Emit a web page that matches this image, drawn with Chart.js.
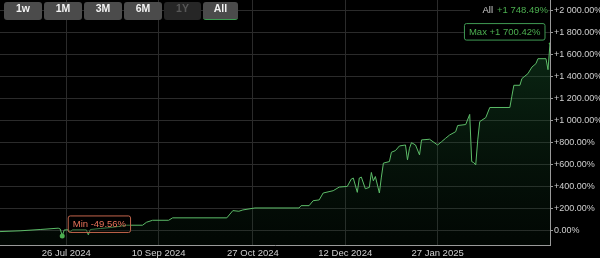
<!DOCTYPE html>
<html><head><meta charset="utf-8">
<script src="https://cdn.jsdelivr.net/npm/chart.js@4/dist/chart.umd.min.js"></script>
<style>
html,body{margin:0;padding:0;background:#000;overflow:hidden;}
#wrap{position:relative;width:600px;height:258px;background:#000;}
canvas{display:block;}
.btn{position:absolute;top:2px;height:18px;line-height:18px;text-align:center;background:#4b4b4b;color:#f2f2f2;border-radius:3px;font:bold 10.5px 'Liberation Sans',Arial,sans-serif;box-sizing:border-box;}
.btn.dis{background:#262626;color:#575757;}
.btn.act{border-bottom:1px solid #3c9a50;}
#allLbl{position:absolute;left:470px;top:3px;height:14px;width:78px;background:#000;font:9.5px 'Liberation Sans',Arial,sans-serif;line-height:14px;text-align:right;white-space:nowrap;}
#allLbl .k{color:#cfcfcf;margin-right:4px;}
#allLbl .v{color:#4caf50;}
</style></head>
<body>
<div id="wrap">
<canvas id="c" width="600" height="258"></canvas>
<div class="btn" style="left:4px;width:38px">1w</div>
<div class="btn" style="left:44px;width:38px">1M</div>
<div class="btn" style="left:84px;width:38px">3M</div>
<div class="btn" style="left:124px;width:38px">6M</div>
<div class="btn dis" style="left:164px;width:37px">1Y</div>
<div class="btn act" style="left:203px;width:35px">All</div>
<div id="allLbl"><span class="k">All</span><span class="v">+1 748.49%</span></div>
</div>
<script>
const dates = ['2024-06-23','2024-07-03','2024-07-13','2024-07-22','2024-07-23','2024-07-24','2024-07-25','2024-07-27','2024-07-28','2024-07-29',
'2024-08-05','2024-08-06','2024-08-07','2024-08-12','2024-08-17','2024-08-22','2024-08-25','2024-09-02','2024-09-04','2024-09-07',
'2024-09-15','2024-09-17','2024-10-14','2024-10-17','2024-10-20','2024-10-22','2024-10-28','2024-11-19','2024-11-20','2024-11-24',
'2024-11-26','2024-11-29','2024-12-01','2024-12-06','2024-12-09','2024-12-13','2024-12-15','2024-12-16','2024-12-18','2024-12-19',
'2024-12-20','2024-12-22','2024-12-24','2024-12-25','2024-12-26','2024-12-27','2024-12-29','2024-12-30','2024-12-31','2025-01-03',
'2025-01-04','2025-01-06','2025-01-08','2025-01-11','2025-01-12','2025-01-13','2025-01-14','2025-01-16','2025-01-18','2025-01-19',
'2025-01-23','2025-01-27','2025-01-29','2025-01-31','2025-02-02','2025-02-05','2025-02-06','2025-02-10','2025-02-12','2025-02-13',
'2025-02-14','2025-02-15','2025-02-16','2025-02-17','2025-02-20','2025-02-22','2025-03-04','2025-03-05','2025-03-06','2025-03-09',
'2025-03-10','2025-03-13','2025-03-15','2025-03-17','2025-03-18','2025-03-22','2025-03-23','2025-03-24'];
const returns = [-10,-3,9,21,14,-49.56,5,6,-15,6,
6,-39,9,18,27,39,48,48,75,93,
93,115,115,181,175,187,205,205,226,226,
271,278,341,362,395,401,468,477,347,477,
486,380,392,528,452,491,341,486,613,627,
712,727,769,778,643,748,799,778,688,824,
830,778,808,839,869,899,955,964,1056,627,
618,597,824,991,1027,1119,1119,1222,1321,1321,
1382,1427,1487,1518,1563,1563,1463,1700.42];
const xTickDates = ['2024-07-26','2024-09-10','2024-10-27','2024-12-12','2025-01-27'];
const yTicks = [0,200,400,600,800,1000,1200,1400,1600,1800,2000];
const xRange = ['2024-06-23','2025-03-24'];
const yRange = [-132, 2097];
const minLabel = 'Min -49.56%';
const maxLabel = 'Max +1 700.42%';

const MONTHS = ['Jan','Feb','Mar','Apr','May','Jun','Jul','Aug','Sep','Oct','Nov','Dec'];
const dayNum = s => Date.parse(s + 'T00:00:00Z') / 86400000;
const fmtDate = d => { const dt = new Date(d * 86400000); return dt.getUTCDate() + ' ' + MONTHS[dt.getUTCMonth()] + ' ' + dt.getUTCFullYear(); };
const fmtPct = v => { const s = Math.abs(v).toFixed(2).split('.'); const i = s[0].replace(/\B(?=(\d{3})+(?!\d))/g, ' '); return (v > 0 ? '+' : v < 0 ? '-' : '') + i + '.' + s[1] + '%'; };

const pts = dates.map((d, i) => ({x: dayNum(d), y: returns[i]}));
let minI = 0, maxI = 0;
returns.forEach((v, i) => { if (v < returns[minI]) minI = i; if (v > returns[maxI]) maxI = i; });

const FONT = "'Liberation Sans',Arial,sans-serif";

const labelPlugin = {
  id: 'minmax',
  afterDatasetsDraw(chart) {
    const ctx = chart.ctx;
    const meta = chart.getDatasetMeta(0);
    const pMin = meta.data[minI], pMax = meta.data[maxI];
    ctx.save();
    ctx.font = '9.5px ' + FONT;
    ctx.textBaseline = 'middle';
    let w = ctx.measureText(minLabel).width + 9, h = 16.5;
    let bx = pMin.x + 5.5, by = pMin.y - 20.5;
    ctx.fillStyle = 'rgba(0,0,0,0.35)';
    ctx.beginPath(); ctx.roundRect(bx + 0.5, by + 0.5, w, h, 2); ctx.fill();
    ctx.strokeStyle = '#c4654c'; ctx.lineWidth = 1; ctx.stroke();
    ctx.fillStyle = '#e8735a'; ctx.textAlign = 'left';
    ctx.fillText(minLabel, bx + 5, by + h / 2 + 1);
    w = ctx.measureText(maxLabel).width + 9; h = 16.5;
    bx = pMax.x - 5.5 - w; by = pMax.y - 20.5;
    ctx.fillStyle = '#000';
    ctx.beginPath(); ctx.roundRect(bx + 0.5, by + 0.5, w, h, 2); ctx.fill();
    ctx.strokeStyle = '#3f9a53'; ctx.stroke();
    ctx.fillStyle = '#4caf50';
    ctx.fillText(maxLabel, bx + 5, by + h / 2 + 1);
    ctx.restore();
  }
};

new Chart(document.getElementById('c'), {
  type: 'line',
  data: { datasets: [{
    data: pts,
    borderColor: '#5cbc68',
    borderWidth: 1,
    tension: 0,
    fill: 'start',
    backgroundColor: (c) => {
      const a = c.chart.chartArea;
      if (!a) return 'rgba(20,70,35,0.3)';
      const g = c.chart.ctx.createLinearGradient(0, a.top, 0, a.bottom);
      g.addColorStop(0, 'rgba(30,110,55,0.45)');
      g.addColorStop(1, 'rgba(15,60,30,0.12)');
      return g;
    },
    pointRadius: pts.map((p, i) => i === minI ? 2.5 : (i === maxI ? 1.2 : 0)),
    pointBackgroundColor: '#4caf50',
    pointBorderWidth: 0
  }]},
  options: {
    responsive: false, animation: false,
    layout: { padding: 0, autoPadding: false },
    plugins: { legend: { display: false }, tooltip: { enabled: false } },
    scales: {
      x: {
        type: 'linear', min: dayNum(xRange[0]), max: dayNum(xRange[1]),
        afterBuildTicks: s => { s.ticks = xTickDates.map(d => ({value: dayNum(d)})); },
        afterFit: s => { s.height = 13; s.paddingLeft = 0; s.paddingRight = 0; },
        ticks: { color: '#cfcfcf', font: { size: 9.5, family: FONT }, padding: 3, maxRotation: 0, autoSkip: false, callback: v => fmtDate(v) },
        grid: { color: '#2b2b2b', drawTicks: false },
        border: { color: '#9a9a9a', width: 1 }
      },
      y: {
        position: 'right', min: yRange[0], max: yRange[1],
        afterBuildTicks: s => { s.ticks = yTicks.map(v => ({value: v})); },
        afterFit: s => { s.width = 50; s.paddingTop = 0; s.paddingBottom = 0; },
        ticks: { color: '#cfcfcf', font: { size: 9, family: FONT }, padding: 1, callback: v => fmtPct(v) },
        grid: { color: '#2b2b2b', tickLength: 3, tickColor: '#9a9a9a' },
        border: { color: '#9a9a9a', width: 1 }
      }
    }
  },
  plugins: [labelPlugin]
});
</script>
</body></html>
